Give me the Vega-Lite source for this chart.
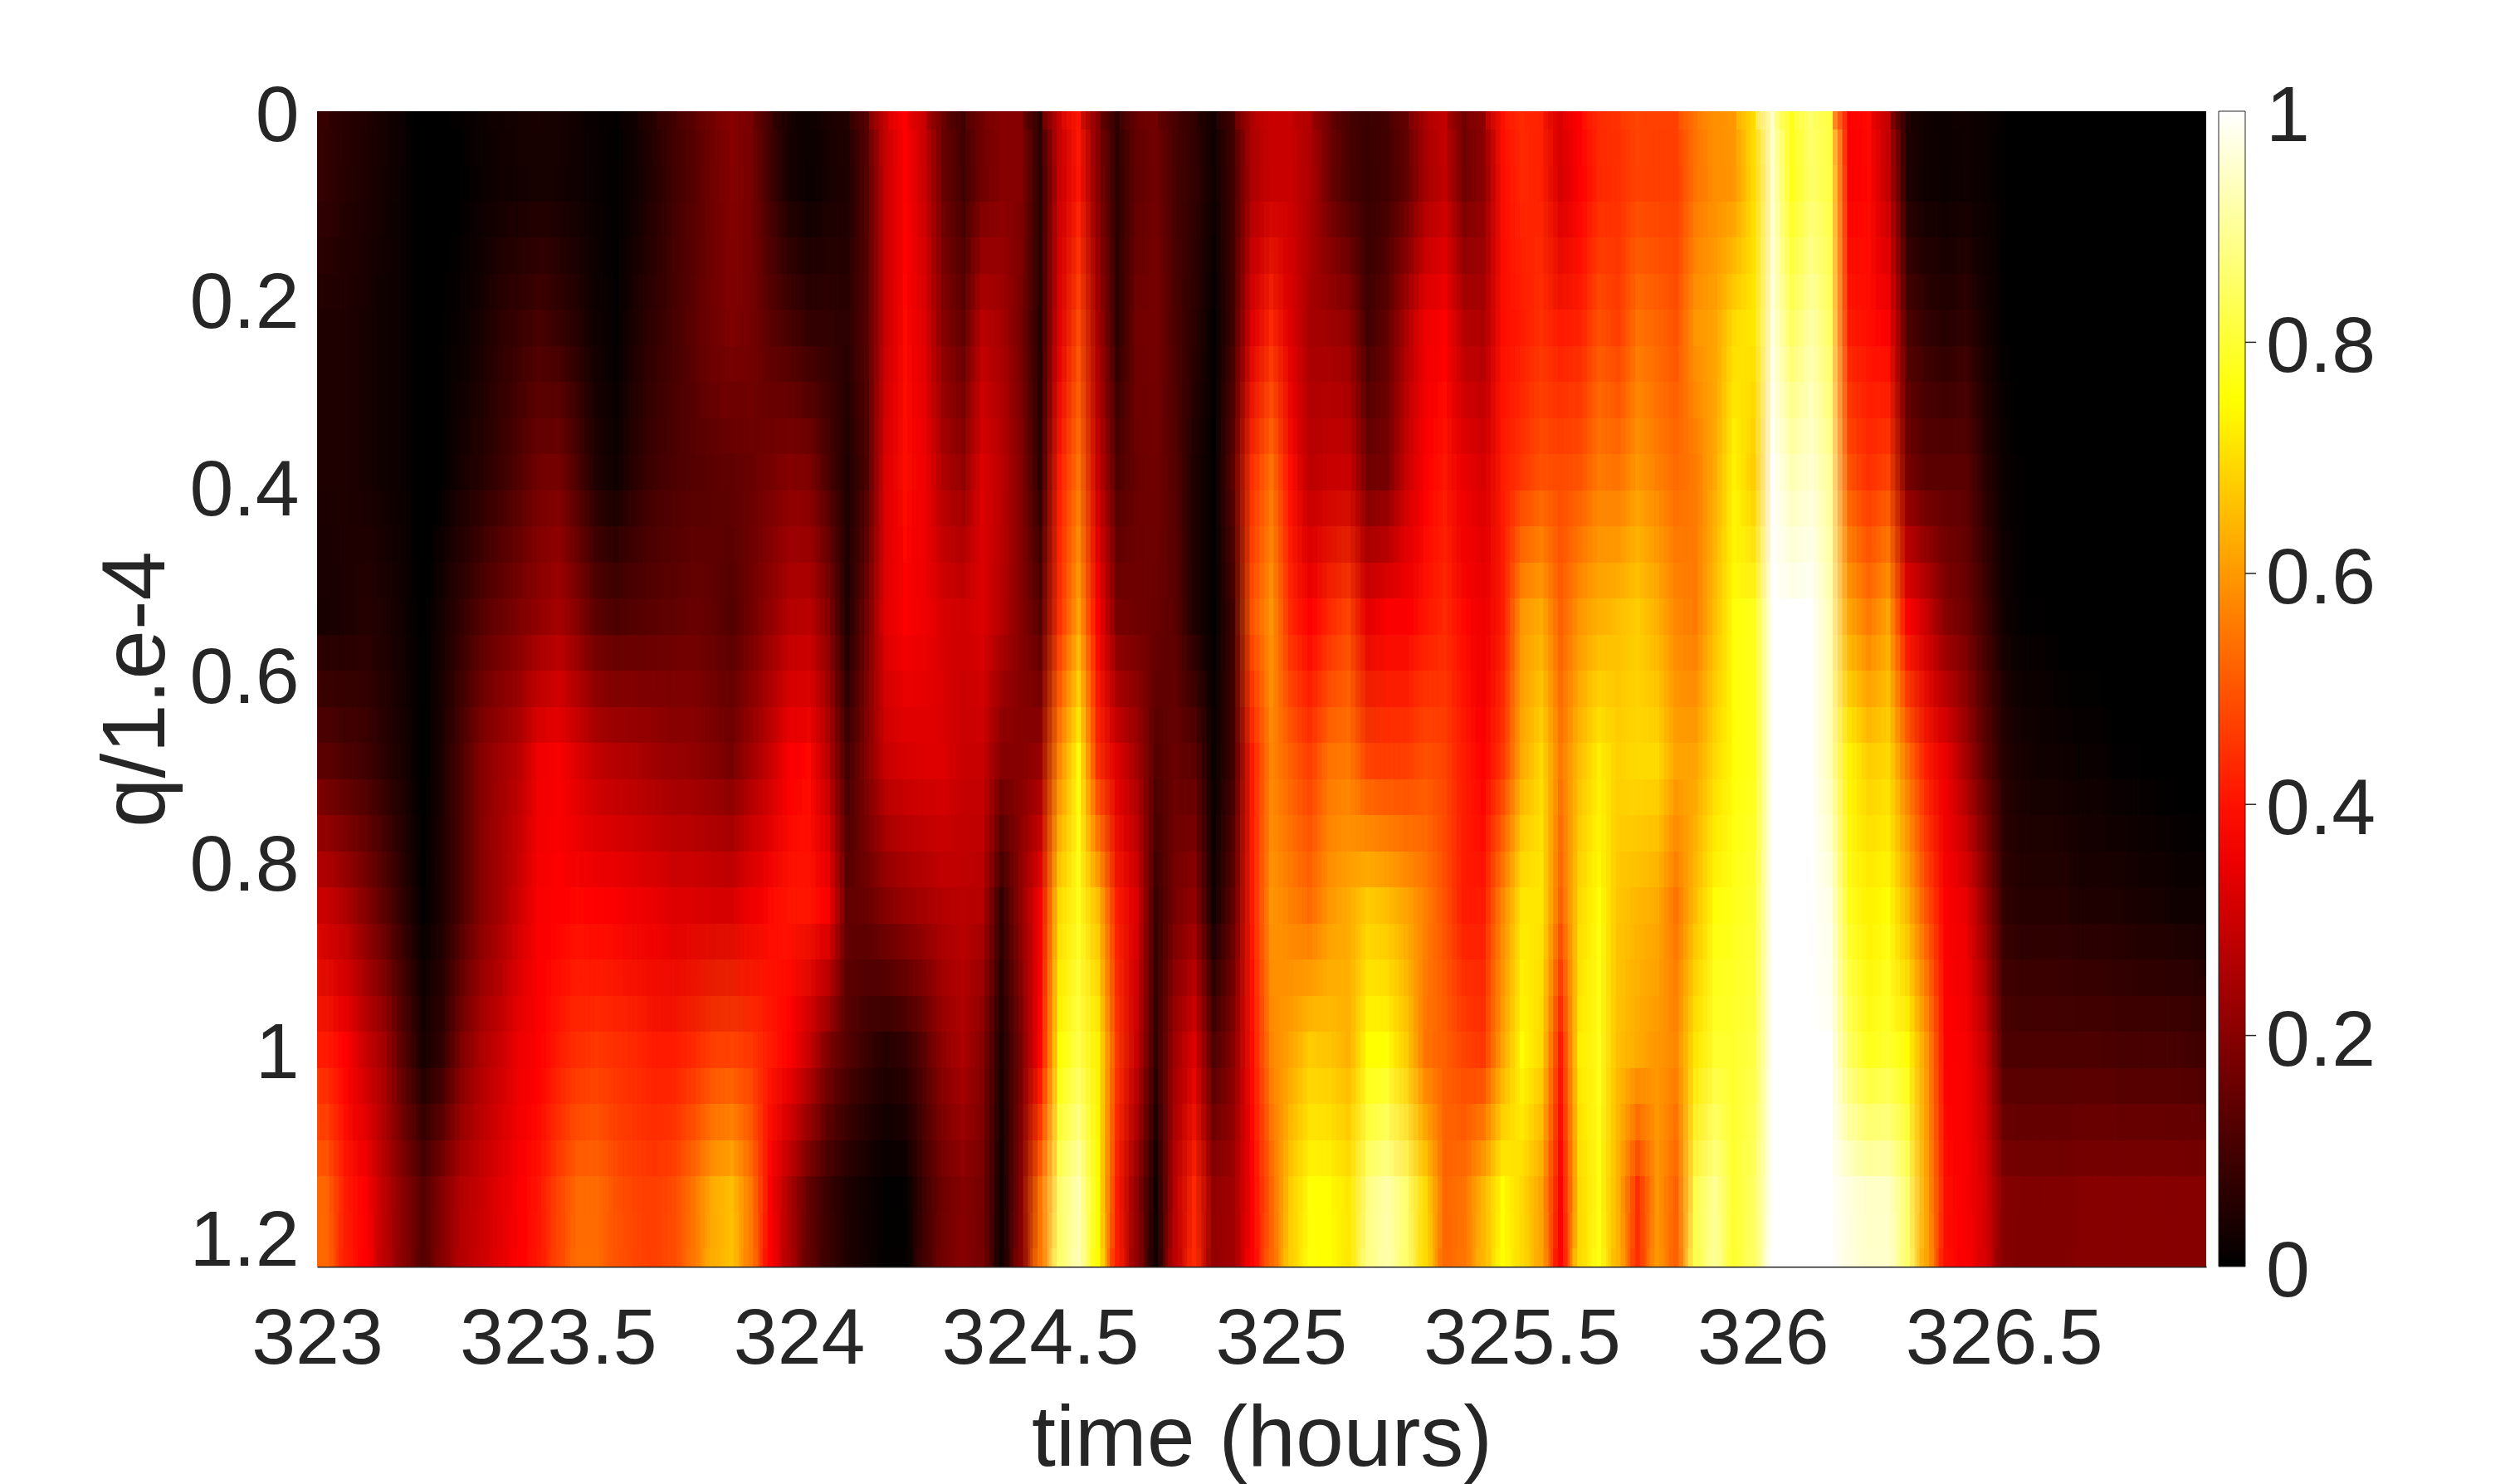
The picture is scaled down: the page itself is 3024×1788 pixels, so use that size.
{"$schema":"https://vega.github.io/schema/vega-lite/v6.json","width":2276,"height":1392,"autosize":{"type":"none"},"padding":{"left":382,"top":134,"right":366,"bottom":262},"background":"white","config":{"view":{"stroke":null},"font":"Liberation Sans"},
"layer":[{
"data":{"values":[
{"t":323.02,"q":0.077,"v":0.08},{"t":323.06,"q":0.077,"v":0.06},{"t":323.10,"q":0.077,"v":0.05},{"t":323.14,"q":0.077,"v":0.035},{"t":323.18,"q":0.077,"v":0.02},{"t":323.22,"q":0.077,"v":0},{"t":323.26,"q":0.077,"v":0.005},{"t":323.30,"q":0.077,"v":0.01},{"t":323.34,"q":0.077,"v":0.02},{"t":323.38,"q":0.077,"v":0.03},{"t":323.42,"q":0.077,"v":0.035},{"t":323.46,"q":0.077,"v":0.04},{"t":323.50,"q":0.077,"v":0.035},{"t":323.54,"q":0.077,"v":0.03},{"t":323.58,"q":0.077,"v":0.015},{"t":323.62,"q":0.077,"v":0.01},{"t":323.66,"q":0.077,"v":0.03},{"t":323.70,"q":0.077,"v":0.06},{"t":323.74,"q":0.077,"v":0.1},{"t":323.78,"q":0.077,"v":0.13},{"t":323.82,"q":0.077,"v":0.17},{"t":323.86,"q":0.077,"v":0.2},{"t":323.90,"q":0.077,"v":0.18},{"t":323.94,"q":0.077,"v":0.1},{"t":323.98,"q":0.077,"v":0.04},{"t":324.02,"q":0.077,"v":0.02},{"t":324.06,"q":0.077,"v":0.04},{"t":324.10,"q":0.077,"v":0.05},{"t":324.14,"q":0.077,"v":0.13},{"t":324.18,"q":0.077,"v":0.3},{"t":324.22,"q":0.077,"v":0.375},{"t":324.26,"q":0.077,"v":0.3},{"t":324.30,"q":0.077,"v":0.16},{"t":324.34,"q":0.077,"v":0.1},{"t":324.38,"q":0.077,"v":0.17},{"t":324.42,"q":0.077,"v":0.2},{"t":324.46,"q":0.077,"v":0.2},{"t":324.50,"q":0.077,"v":0.07},{"t":324.54,"q":0.077,"v":0.3},{"t":324.58,"q":0.077,"v":0.41},{"t":324.62,"q":0.077,"v":0.2},{"t":324.66,"q":0.077,"v":0.07},{"t":324.70,"q":0.077,"v":0.15},{"t":324.74,"q":0.077,"v":0.17},{"t":324.78,"q":0.077,"v":0.11},{"t":324.82,"q":0.077,"v":0.08},{"t":324.86,"q":0.077,"v":0.03},{"t":324.90,"q":0.077,"v":0.1},{"t":324.94,"q":0.077,"v":0.26},{"t":324.98,"q":0.077,"v":0.3},{"t":325.02,"q":0.077,"v":0.3},{"t":325.06,"q":0.077,"v":0.26},{"t":325.10,"q":0.077,"v":0.17},{"t":325.14,"q":0.077,"v":0.11},{"t":325.18,"q":0.077,"v":0.09},{"t":325.22,"q":0.077,"v":0.1},{"t":325.26,"q":0.077,"v":0.15},{"t":325.30,"q":0.077,"v":0.25},{"t":325.34,"q":0.077,"v":0.29},{"t":325.38,"q":0.077,"v":0.17},{"t":325.42,"q":0.077,"v":0.21},{"t":325.46,"q":0.077,"v":0.4},{"t":325.50,"q":0.077,"v":0.44},{"t":325.54,"q":0.077,"v":0.43},{"t":325.58,"q":0.077,"v":0.32},{"t":325.62,"q":0.077,"v":0.38},{"t":325.66,"q":0.077,"v":0.44},{"t":325.70,"q":0.077,"v":0.45},{"t":325.74,"q":0.077,"v":0.48},{"t":325.78,"q":0.077,"v":0.47},{"t":325.82,"q":0.077,"v":0.47},{"t":325.86,"q":0.077,"v":0.55},{"t":325.90,"q":0.077,"v":0.59},{"t":325.94,"q":0.077,"v":0.6},{"t":325.98,"q":0.077,"v":0.7},{"t":326.02,"q":0.077,"v":0.95},{"t":326.06,"q":0.077,"v":0.78},{"t":326.10,"q":0.077,"v":0.86},{"t":326.14,"q":0.077,"v":0.82},{"t":326.18,"q":0.077,"v":0.38},{"t":326.22,"q":0.077,"v":0.39},{"t":326.26,"q":0.077,"v":0.29},{"t":326.30,"q":0.077,"v":0.05},{"t":326.34,"q":0.077,"v":0.03},{"t":326.38,"q":0.077,"v":0.02},{"t":326.42,"q":0.077,"v":0.03},{"t":326.46,"q":0.077,"v":0.02},{"t":326.50,"q":0.077,"v":0.01},{"t":326.54,"q":0.077,"v":0.005},{"t":326.58,"q":0.077,"v":0},{"t":326.62,"q":0.077,"v":0},{"t":326.66,"q":0.077,"v":0},{"t":326.70,"q":0.077,"v":0},{"t":326.74,"q":0.077,"v":0},{"t":326.78,"q":0.077,"v":0},{"t":326.82,"q":0.077,"v":0},{"t":326.86,"q":0.077,"v":0},{"t":326.90,"q":0.077,"v":0},
{"t":323.02,"q":0.231,"v":0.05},{"t":323.06,"q":0.231,"v":0.05},{"t":323.10,"q":0.231,"v":0.04},{"t":323.14,"q":0.231,"v":0.03},{"t":323.18,"q":0.231,"v":0.02},{"t":323.22,"q":0.231,"v":0},{"t":323.26,"q":0.231,"v":0.01},{"t":323.30,"q":0.231,"v":0.02},{"t":323.34,"q":0.231,"v":0.04},{"t":323.38,"q":0.231,"v":0.07},{"t":323.42,"q":0.231,"v":0.09},{"t":323.46,"q":0.231,"v":0.11},{"t":323.50,"q":0.231,"v":0.09},{"t":323.54,"q":0.231,"v":0.06},{"t":323.58,"q":0.231,"v":0.03},{"t":323.62,"q":0.231,"v":0.01},{"t":323.66,"q":0.231,"v":0.05},{"t":323.70,"q":0.231,"v":0.08},{"t":323.74,"q":0.231,"v":0.11},{"t":323.78,"q":0.231,"v":0.14},{"t":323.82,"q":0.231,"v":0.17},{"t":323.86,"q":0.231,"v":0.19},{"t":323.90,"q":0.231,"v":0.18},{"t":323.94,"q":0.231,"v":0.14},{"t":323.98,"q":0.231,"v":0.11},{"t":324.02,"q":0.231,"v":0.08},{"t":324.06,"q":0.231,"v":0.08},{"t":324.10,"q":0.231,"v":0.07},{"t":324.14,"q":0.231,"v":0.13},{"t":324.18,"q":0.231,"v":0.3},{"t":324.22,"q":0.231,"v":0.39},{"t":324.26,"q":0.231,"v":0.33},{"t":324.30,"q":0.231,"v":0.2},{"t":324.34,"q":0.231,"v":0.15},{"t":324.38,"q":0.231,"v":0.28},{"t":324.42,"q":0.231,"v":0.25},{"t":324.46,"q":0.231,"v":0.18},{"t":324.50,"q":0.231,"v":0.06},{"t":324.54,"q":0.231,"v":0.33},{"t":324.58,"q":0.231,"v":0.49},{"t":324.62,"q":0.231,"v":0.25},{"t":324.66,"q":0.231,"v":0.07},{"t":324.70,"q":0.231,"v":0.17},{"t":324.74,"q":0.231,"v":0.18},{"t":324.78,"q":0.231,"v":0.12},{"t":324.82,"q":0.231,"v":0.07},{"t":324.86,"q":0.231,"v":0.01},{"t":324.90,"q":0.231,"v":0.1},{"t":324.94,"q":0.231,"v":0.33},{"t":324.98,"q":0.231,"v":0.44},{"t":325.02,"q":0.231,"v":0.33},{"t":325.06,"q":0.231,"v":0.25},{"t":325.10,"q":0.231,"v":0.24},{"t":325.14,"q":0.231,"v":0.22},{"t":325.18,"q":0.231,"v":0.1},{"t":325.22,"q":0.231,"v":0.15},{"t":325.26,"q":0.231,"v":0.26},{"t":325.30,"q":0.231,"v":0.36},{"t":325.34,"q":0.231,"v":0.38},{"t":325.38,"q":0.231,"v":0.27},{"t":325.42,"q":0.231,"v":0.26},{"t":325.46,"q":0.231,"v":0.4},{"t":325.50,"q":0.231,"v":0.42},{"t":325.54,"q":0.231,"v":0.45},{"t":325.58,"q":0.231,"v":0.42},{"t":325.62,"q":0.231,"v":0.43},{"t":325.66,"q":0.231,"v":0.5},{"t":325.70,"q":0.231,"v":0.47},{"t":325.74,"q":0.231,"v":0.55},{"t":325.78,"q":0.231,"v":0.53},{"t":325.82,"q":0.231,"v":0.5},{"t":325.86,"q":0.231,"v":0.6},{"t":325.90,"q":0.231,"v":0.62},{"t":325.94,"q":0.231,"v":0.7},{"t":325.98,"q":0.231,"v":0.72},{"t":326.02,"q":0.231,"v":0.97},{"t":326.06,"q":0.231,"v":0.85},{"t":326.10,"q":0.231,"v":0.92},{"t":326.14,"q":0.231,"v":0.85},{"t":326.18,"q":0.231,"v":0.42},{"t":326.22,"q":0.231,"v":0.4},{"t":326.26,"q":0.231,"v":0.38},{"t":326.30,"q":0.231,"v":0.12},{"t":326.34,"q":0.231,"v":0.08},{"t":326.38,"q":0.231,"v":0.06},{"t":326.42,"q":0.231,"v":0.08},{"t":326.46,"q":0.231,"v":0.04},{"t":326.50,"q":0.231,"v":0.01},{"t":326.54,"q":0.231,"v":0.005},{"t":326.58,"q":0.231,"v":0},{"t":326.62,"q":0.231,"v":0},{"t":326.66,"q":0.231,"v":0},{"t":326.70,"q":0.231,"v":0},{"t":326.74,"q":0.231,"v":0},{"t":326.78,"q":0.231,"v":0},{"t":326.82,"q":0.231,"v":0},{"t":326.86,"q":0.231,"v":0},{"t":326.90,"q":0.231,"v":0},
{"t":323.02,"q":0.385,"v":0.05},{"t":323.06,"q":0.385,"v":0.05},{"t":323.10,"q":0.385,"v":0.04},{"t":323.14,"q":0.385,"v":0.03},{"t":323.18,"q":0.385,"v":0.02},{"t":323.22,"q":0.385,"v":0},{"t":323.26,"q":0.385,"v":0.01},{"t":323.30,"q":0.385,"v":0.04},{"t":323.34,"q":0.385,"v":0.06},{"t":323.38,"q":0.385,"v":0.09},{"t":323.42,"q":0.385,"v":0.13},{"t":323.46,"q":0.385,"v":0.17},{"t":323.50,"q":0.385,"v":0.18},{"t":323.54,"q":0.385,"v":0.12},{"t":323.58,"q":0.385,"v":0.05},{"t":323.62,"q":0.385,"v":0.03},{"t":323.66,"q":0.385,"v":0.07},{"t":323.70,"q":0.385,"v":0.1},{"t":323.74,"q":0.385,"v":0.12},{"t":323.78,"q":0.385,"v":0.13},{"t":323.82,"q":0.385,"v":0.14},{"t":323.86,"q":0.385,"v":0.15},{"t":323.90,"q":0.385,"v":0.16},{"t":323.94,"q":0.385,"v":0.18},{"t":323.98,"q":0.385,"v":0.2},{"t":324.02,"q":0.385,"v":0.19},{"t":324.06,"q":0.385,"v":0.12},{"t":324.10,"q":0.385,"v":0.05},{"t":324.14,"q":0.385,"v":0.12},{"t":324.18,"q":0.385,"v":0.33},{"t":324.22,"q":0.385,"v":0.4},{"t":324.26,"q":0.385,"v":0.36},{"t":324.30,"q":0.385,"v":0.26},{"t":324.34,"q":0.385,"v":0.22},{"t":324.38,"q":0.385,"v":0.33},{"t":324.42,"q":0.385,"v":0.28},{"t":324.46,"q":0.385,"v":0.2},{"t":324.50,"q":0.385,"v":0.07},{"t":324.54,"q":0.385,"v":0.42},{"t":324.58,"q":0.385,"v":0.55},{"t":324.62,"q":0.385,"v":0.3},{"t":324.66,"q":0.385,"v":0.12},{"t":324.70,"q":0.385,"v":0.16},{"t":324.74,"q":0.385,"v":0.17},{"t":324.78,"q":0.385,"v":0.13},{"t":324.82,"q":0.385,"v":0.05},{"t":324.86,"q":0.385,"v":0.01},{"t":324.90,"q":0.385,"v":0.14},{"t":324.94,"q":0.385,"v":0.45},{"t":324.98,"q":0.385,"v":0.55},{"t":325.02,"q":0.385,"v":0.4},{"t":325.06,"q":0.385,"v":0.28},{"t":325.10,"q":0.385,"v":0.3},{"t":325.14,"q":0.385,"v":0.3},{"t":325.18,"q":0.385,"v":0.17},{"t":325.22,"q":0.385,"v":0.18},{"t":325.26,"q":0.385,"v":0.3},{"t":325.30,"q":0.385,"v":0.38},{"t":325.34,"q":0.385,"v":0.41},{"t":325.38,"q":0.385,"v":0.35},{"t":325.42,"q":0.385,"v":0.32},{"t":325.46,"q":0.385,"v":0.42},{"t":325.50,"q":0.385,"v":0.46},{"t":325.54,"q":0.385,"v":0.5},{"t":325.58,"q":0.385,"v":0.49},{"t":325.62,"q":0.385,"v":0.5},{"t":325.66,"q":0.385,"v":0.56},{"t":325.70,"q":0.385,"v":0.55},{"t":325.74,"q":0.385,"v":0.6},{"t":325.78,"q":0.385,"v":0.57},{"t":325.82,"q":0.385,"v":0.54},{"t":325.86,"q":0.385,"v":0.56},{"t":325.90,"q":0.385,"v":0.63},{"t":325.94,"q":0.385,"v":0.74},{"t":325.98,"q":0.385,"v":0.68},{"t":326.02,"q":0.385,"v":1},{"t":326.06,"q":0.385,"v":0.93},{"t":326.10,"q":0.385,"v":0.96},{"t":326.14,"q":0.385,"v":0.9},{"t":326.18,"q":0.385,"v":0.5},{"t":326.22,"q":0.385,"v":0.45},{"t":326.26,"q":0.385,"v":0.48},{"t":326.30,"q":0.385,"v":0.18},{"t":326.34,"q":0.385,"v":0.14},{"t":326.38,"q":0.385,"v":0.14},{"t":326.42,"q":0.385,"v":0.14},{"t":326.46,"q":0.385,"v":0.07},{"t":326.50,"q":0.385,"v":0.02},{"t":326.54,"q":0.385,"v":0.01},{"t":326.58,"q":0.385,"v":0},{"t":326.62,"q":0.385,"v":0},{"t":326.66,"q":0.385,"v":0},{"t":326.70,"q":0.385,"v":0},{"t":326.74,"q":0.385,"v":0},{"t":326.78,"q":0.385,"v":0},{"t":326.82,"q":0.385,"v":0},{"t":326.86,"q":0.385,"v":0},{"t":326.90,"q":0.385,"v":0},
{"t":323.02,"q":0.539,"v":0.04},{"t":323.06,"q":0.539,"v":0.05},{"t":323.10,"q":0.539,"v":0.06},{"t":323.14,"q":0.539,"v":0.05},{"t":323.18,"q":0.539,"v":0.03},{"t":323.22,"q":0.539,"v":0},{"t":323.26,"q":0.539,"v":0.04},{"t":323.30,"q":0.539,"v":0.08},{"t":323.34,"q":0.539,"v":0.13},{"t":323.38,"q":0.539,"v":0.16},{"t":323.42,"q":0.539,"v":0.19},{"t":323.46,"q":0.539,"v":0.22},{"t":323.50,"q":0.539,"v":0.25},{"t":323.54,"q":0.539,"v":0.2},{"t":323.58,"q":0.539,"v":0.14},{"t":323.62,"q":0.539,"v":0.12},{"t":323.66,"q":0.539,"v":0.13},{"t":323.70,"q":0.539,"v":0.14},{"t":323.74,"q":0.539,"v":0.15},{"t":323.78,"q":0.539,"v":0.16},{"t":323.82,"q":0.539,"v":0.15},{"t":323.86,"q":0.539,"v":0.13},{"t":323.90,"q":0.539,"v":0.17},{"t":323.94,"q":0.539,"v":0.22},{"t":323.98,"q":0.539,"v":0.27},{"t":324.02,"q":0.539,"v":0.28},{"t":324.06,"q":0.539,"v":0.2},{"t":324.10,"q":0.539,"v":0.05},{"t":324.14,"q":0.539,"v":0.17},{"t":324.18,"q":0.539,"v":0.34},{"t":324.22,"q":0.539,"v":0.38},{"t":324.26,"q":0.539,"v":0.36},{"t":324.30,"q":0.539,"v":0.32},{"t":324.34,"q":0.539,"v":0.31},{"t":324.38,"q":0.539,"v":0.33},{"t":324.42,"q":0.539,"v":0.27},{"t":324.46,"q":0.539,"v":0.2},{"t":324.50,"q":0.539,"v":0.13},{"t":324.54,"q":0.539,"v":0.45},{"t":324.58,"q":0.539,"v":0.62},{"t":324.62,"q":0.539,"v":0.38},{"t":324.66,"q":0.539,"v":0.18},{"t":324.70,"q":0.539,"v":0.17},{"t":324.74,"q":0.539,"v":0.16},{"t":324.78,"q":0.539,"v":0.14},{"t":324.82,"q":0.539,"v":0.05},{"t":324.86,"q":0.539,"v":0.01},{"t":324.90,"q":0.539,"v":0.1},{"t":324.94,"q":0.539,"v":0.5},{"t":324.98,"q":0.539,"v":0.6},{"t":325.02,"q":0.539,"v":0.44},{"t":325.06,"q":0.539,"v":0.38},{"t":325.10,"q":0.539,"v":0.44},{"t":325.14,"q":0.539,"v":0.48},{"t":325.18,"q":0.539,"v":0.34},{"t":325.22,"q":0.539,"v":0.37},{"t":325.26,"q":0.539,"v":0.37},{"t":325.30,"q":0.539,"v":0.41},{"t":325.34,"q":0.539,"v":0.44},{"t":325.38,"q":0.539,"v":0.39},{"t":325.42,"q":0.539,"v":0.36},{"t":325.46,"q":0.539,"v":0.42},{"t":325.50,"q":0.539,"v":0.6},{"t":325.54,"q":0.539,"v":0.63},{"t":325.58,"q":0.539,"v":0.52},{"t":325.62,"q":0.539,"v":0.6},{"t":325.66,"q":0.539,"v":0.64},{"t":325.70,"q":0.539,"v":0.66},{"t":325.74,"q":0.539,"v":0.68},{"t":325.78,"q":0.539,"v":0.64},{"t":325.82,"q":0.539,"v":0.58},{"t":325.86,"q":0.539,"v":0.56},{"t":325.90,"q":0.539,"v":0.66},{"t":325.94,"q":0.539,"v":0.76},{"t":325.98,"q":0.539,"v":0.78},{"t":326.02,"q":0.539,"v":1},{"t":326.06,"q":0.539,"v":1},{"t":326.10,"q":0.539,"v":1},{"t":326.14,"q":0.539,"v":0.93},{"t":326.18,"q":0.539,"v":0.62},{"t":326.22,"q":0.539,"v":0.56},{"t":326.26,"q":0.539,"v":0.62},{"t":326.30,"q":0.539,"v":0.38},{"t":326.34,"q":0.539,"v":0.3},{"t":326.38,"q":0.539,"v":0.2},{"t":326.42,"q":0.539,"v":0.17},{"t":326.46,"q":0.539,"v":0.1},{"t":326.50,"q":0.539,"v":0.03},{"t":326.54,"q":0.539,"v":0.01},{"t":326.58,"q":0.539,"v":0.01},{"t":326.62,"q":0.539,"v":0.005},{"t":326.66,"q":0.539,"v":0},{"t":326.70,"q":0.539,"v":0},{"t":326.74,"q":0.539,"v":0},{"t":326.78,"q":0.539,"v":0},{"t":326.82,"q":0.539,"v":0},{"t":326.86,"q":0.539,"v":0},{"t":326.90,"q":0.539,"v":0},
{"t":323.02,"q":0.693,"v":0.14},{"t":323.06,"q":0.693,"v":0.12},{"t":323.10,"q":0.693,"v":0.1},{"t":323.14,"q":0.693,"v":0.07},{"t":323.18,"q":0.693,"v":0.04},{"t":323.22,"q":0.693,"v":0},{"t":323.26,"q":0.693,"v":0.05},{"t":323.30,"q":0.693,"v":0.12},{"t":323.34,"q":0.693,"v":0.2},{"t":323.38,"q":0.693,"v":0.24},{"t":323.42,"q":0.693,"v":0.28},{"t":323.46,"q":0.693,"v":0.36},{"t":323.50,"q":0.693,"v":0.37},{"t":323.54,"q":0.693,"v":0.33},{"t":323.58,"q":0.693,"v":0.29},{"t":323.62,"q":0.693,"v":0.27},{"t":323.66,"q":0.693,"v":0.26},{"t":323.70,"q":0.693,"v":0.24},{"t":323.74,"q":0.693,"v":0.23},{"t":323.78,"q":0.693,"v":0.22},{"t":323.82,"q":0.693,"v":0.2},{"t":323.86,"q":0.693,"v":0.18},{"t":323.90,"q":0.693,"v":0.24},{"t":323.94,"q":0.693,"v":0.3},{"t":323.98,"q":0.693,"v":0.37},{"t":324.02,"q":0.693,"v":0.39},{"t":324.06,"q":0.693,"v":0.28},{"t":324.10,"q":0.693,"v":0.1},{"t":324.14,"q":0.693,"v":0.2},{"t":324.18,"q":0.693,"v":0.3},{"t":324.22,"q":0.693,"v":0.32},{"t":324.26,"q":0.693,"v":0.33},{"t":324.30,"q":0.693,"v":0.33},{"t":324.34,"q":0.693,"v":0.3},{"t":324.38,"q":0.693,"v":0.3},{"t":324.42,"q":0.693,"v":0.2},{"t":324.46,"q":0.693,"v":0.2},{"t":324.50,"q":0.693,"v":0.23},{"t":324.54,"q":0.693,"v":0.58},{"t":324.58,"q":0.693,"v":0.76},{"t":324.62,"q":0.693,"v":0.45},{"t":324.66,"q":0.693,"v":0.33},{"t":324.70,"q":0.693,"v":0.25},{"t":324.74,"q":0.693,"v":0.13},{"t":324.78,"q":0.693,"v":0.16},{"t":324.82,"q":0.693,"v":0.14},{"t":324.86,"q":0.693,"v":0.02},{"t":324.90,"q":0.693,"v":0.1},{"t":324.94,"q":0.693,"v":0.42},{"t":324.98,"q":0.693,"v":0.58},{"t":325.02,"q":0.693,"v":0.52},{"t":325.06,"q":0.693,"v":0.47},{"t":325.10,"q":0.693,"v":0.55},{"t":325.14,"q":0.693,"v":0.56},{"t":325.18,"q":0.693,"v":0.48},{"t":325.22,"q":0.693,"v":0.47},{"t":325.26,"q":0.693,"v":0.47},{"t":325.30,"q":0.693,"v":0.5},{"t":325.34,"q":0.693,"v":0.48},{"t":325.38,"q":0.693,"v":0.42},{"t":325.42,"q":0.693,"v":0.38},{"t":325.46,"q":0.693,"v":0.46},{"t":325.50,"q":0.693,"v":0.63},{"t":325.54,"q":0.693,"v":0.7},{"t":325.58,"q":0.693,"v":0.56},{"t":325.62,"q":0.693,"v":0.66},{"t":325.66,"q":0.693,"v":0.73},{"t":325.70,"q":0.693,"v":0.69},{"t":325.74,"q":0.693,"v":0.7},{"t":325.78,"q":0.693,"v":0.7},{"t":325.82,"q":0.693,"v":0.62},{"t":325.86,"q":0.693,"v":0.62},{"t":325.90,"q":0.693,"v":0.7},{"t":325.94,"q":0.693,"v":0.76},{"t":325.98,"q":0.693,"v":0.78},{"t":326.02,"q":0.693,"v":1},{"t":326.06,"q":0.693,"v":1},{"t":326.10,"q":0.693,"v":1},{"t":326.14,"q":0.693,"v":0.93},{"t":326.18,"q":0.693,"v":0.74},{"t":326.22,"q":0.693,"v":0.68},{"t":326.26,"q":0.693,"v":0.7},{"t":326.30,"q":0.693,"v":0.55},{"t":326.34,"q":0.693,"v":0.42},{"t":326.38,"q":0.693,"v":0.35},{"t":326.42,"q":0.693,"v":0.25},{"t":326.46,"q":0.693,"v":0.15},{"t":326.50,"q":0.693,"v":0.06},{"t":326.54,"q":0.693,"v":0.04},{"t":326.58,"q":0.693,"v":0.03},{"t":326.62,"q":0.693,"v":0.03},{"t":326.66,"q":0.693,"v":0.02},{"t":326.70,"q":0.693,"v":0.02},{"t":326.74,"q":0.693,"v":0.01},{"t":326.78,"q":0.693,"v":0.01},{"t":326.82,"q":0.693,"v":0.005},{"t":326.86,"q":0.693,"v":0.005},{"t":326.90,"q":0.693,"v":0},
{"t":323.02,"q":0.847,"v":0.3},{"t":323.06,"q":0.847,"v":0.26},{"t":323.10,"q":0.847,"v":0.2},{"t":323.14,"q":0.847,"v":0.14},{"t":323.18,"q":0.847,"v":0.07},{"t":323.22,"q":0.847,"v":0.01},{"t":323.26,"q":0.847,"v":0.05},{"t":323.30,"q":0.847,"v":0.12},{"t":323.34,"q":0.847,"v":0.2},{"t":323.38,"q":0.847,"v":0.25},{"t":323.42,"q":0.847,"v":0.31},{"t":323.46,"q":0.847,"v":0.37},{"t":323.50,"q":0.847,"v":0.38},{"t":323.54,"q":0.847,"v":0.39},{"t":323.58,"q":0.847,"v":0.38},{"t":323.62,"q":0.847,"v":0.37},{"t":323.66,"q":0.847,"v":0.36},{"t":323.70,"q":0.847,"v":0.35},{"t":323.74,"q":0.847,"v":0.33},{"t":323.78,"q":0.847,"v":0.33},{"t":323.82,"q":0.847,"v":0.32},{"t":323.86,"q":0.847,"v":0.32},{"t":323.90,"q":0.847,"v":0.36},{"t":323.94,"q":0.847,"v":0.39},{"t":323.98,"q":0.847,"v":0.41},{"t":324.02,"q":0.847,"v":0.41},{"t":324.06,"q":0.847,"v":0.37},{"t":324.10,"q":0.847,"v":0.15},{"t":324.14,"q":0.847,"v":0.16},{"t":324.18,"q":0.847,"v":0.2},{"t":324.22,"q":0.847,"v":0.23},{"t":324.26,"q":0.847,"v":0.25},{"t":324.30,"q":0.847,"v":0.27},{"t":324.34,"q":0.847,"v":0.28},{"t":324.38,"q":0.847,"v":0.27},{"t":324.42,"q":0.847,"v":0.08},{"t":324.46,"q":0.847,"v":0.22},{"t":324.50,"q":0.847,"v":0.36},{"t":324.54,"q":0.847,"v":0.7},{"t":324.58,"q":0.847,"v":0.78},{"t":324.62,"q":0.847,"v":0.66},{"t":324.66,"q":0.847,"v":0.42},{"t":324.70,"q":0.847,"v":0.33},{"t":324.74,"q":0.847,"v":0.09},{"t":324.78,"q":0.847,"v":0.18},{"t":324.82,"q":0.847,"v":0.22},{"t":324.86,"q":0.847,"v":0.03},{"t":324.90,"q":0.847,"v":0.15},{"t":324.94,"q":0.847,"v":0.42},{"t":324.98,"q":0.847,"v":0.6},{"t":325.02,"q":0.847,"v":0.57},{"t":325.06,"q":0.847,"v":0.54},{"t":325.10,"q":0.847,"v":0.6},{"t":325.14,"q":0.847,"v":0.63},{"t":325.18,"q":0.847,"v":0.68},{"t":325.22,"q":0.847,"v":0.66},{"t":325.26,"q":0.847,"v":0.62},{"t":325.30,"q":0.847,"v":0.57},{"t":325.34,"q":0.847,"v":0.5},{"t":325.38,"q":0.847,"v":0.42},{"t":325.42,"q":0.847,"v":0.42},{"t":325.46,"q":0.847,"v":0.58},{"t":325.50,"q":0.847,"v":0.72},{"t":325.54,"q":0.847,"v":0.72},{"t":325.58,"q":0.847,"v":0.52},{"t":325.62,"q":0.847,"v":0.7},{"t":325.66,"q":0.847,"v":0.76},{"t":325.70,"q":0.847,"v":0.67},{"t":325.74,"q":0.847,"v":0.65},{"t":325.78,"q":0.847,"v":0.63},{"t":325.82,"q":0.847,"v":0.55},{"t":325.86,"q":0.847,"v":0.66},{"t":325.90,"q":0.847,"v":0.76},{"t":325.94,"q":0.847,"v":0.78},{"t":325.98,"q":0.847,"v":0.8},{"t":326.02,"q":0.847,"v":1},{"t":326.06,"q":0.847,"v":1},{"t":326.10,"q":0.847,"v":1},{"t":326.14,"q":0.847,"v":0.98},{"t":326.18,"q":0.847,"v":0.78},{"t":326.22,"q":0.847,"v":0.74},{"t":326.26,"q":0.847,"v":0.76},{"t":326.30,"q":0.847,"v":0.65},{"t":326.34,"q":0.847,"v":0.5},{"t":326.38,"q":0.847,"v":0.38},{"t":326.42,"q":0.847,"v":0.35},{"t":326.46,"q":0.847,"v":0.23},{"t":326.50,"q":0.847,"v":0.08},{"t":326.54,"q":0.847,"v":0.06},{"t":326.58,"q":0.847,"v":0.06},{"t":326.62,"q":0.847,"v":0.06},{"t":326.66,"q":0.847,"v":0.05},{"t":326.70,"q":0.847,"v":0.05},{"t":326.74,"q":0.847,"v":0.05},{"t":326.78,"q":0.847,"v":0.04},{"t":326.82,"q":0.847,"v":0.04},{"t":326.86,"q":0.847,"v":0.03},{"t":326.90,"q":0.847,"v":0.03},
{"t":323.02,"q":1.001,"v":0.42},{"t":323.06,"q":1.001,"v":0.38},{"t":323.10,"q":1.001,"v":0.3},{"t":323.14,"q":1.001,"v":0.24},{"t":323.18,"q":1.001,"v":0.13},{"t":323.22,"q":1.001,"v":0.04},{"t":323.26,"q":1.001,"v":0.08},{"t":323.30,"q":1.001,"v":0.19},{"t":323.34,"q":1.001,"v":0.26},{"t":323.38,"q":1.001,"v":0.3},{"t":323.42,"q":1.001,"v":0.36},{"t":323.46,"q":1.001,"v":0.38},{"t":323.50,"q":1.001,"v":0.42},{"t":323.54,"q":1.001,"v":0.45},{"t":323.58,"q":1.001,"v":0.46},{"t":323.62,"q":1.001,"v":0.45},{"t":323.66,"q":1.001,"v":0.44},{"t":323.70,"q":1.001,"v":0.42},{"t":323.74,"q":1.001,"v":0.42},{"t":323.78,"q":1.001,"v":0.44},{"t":323.82,"q":1.001,"v":0.47},{"t":323.86,"q":1.001,"v":0.48},{"t":323.90,"q":1.001,"v":0.46},{"t":323.94,"q":1.001,"v":0.42},{"t":323.98,"q":1.001,"v":0.38},{"t":324.02,"q":1.001,"v":0.3},{"t":324.06,"q":1.001,"v":0.19},{"t":324.10,"q":1.001,"v":0.13},{"t":324.14,"q":1.001,"v":0.09},{"t":324.18,"q":1.001,"v":0.06},{"t":324.22,"q":1.001,"v":0.08},{"t":324.26,"q":1.001,"v":0.14},{"t":324.30,"q":1.001,"v":0.22},{"t":324.34,"q":1.001,"v":0.26},{"t":324.38,"q":1.001,"v":0.2},{"t":324.42,"q":1.001,"v":0.05},{"t":324.46,"q":1.001,"v":0.18},{"t":324.50,"q":1.001,"v":0.38},{"t":324.54,"q":1.001,"v":0.75},{"t":324.58,"q":1.001,"v":0.83},{"t":324.62,"q":1.001,"v":0.74},{"t":324.66,"q":1.001,"v":0.46},{"t":324.70,"q":1.001,"v":0.3},{"t":324.74,"q":1.001,"v":0.08},{"t":324.78,"q":1.001,"v":0.24},{"t":324.82,"q":1.001,"v":0.33},{"t":324.86,"q":1.001,"v":0.12},{"t":324.90,"q":1.001,"v":0.2},{"t":324.94,"q":1.001,"v":0.4},{"t":324.98,"q":1.001,"v":0.58},{"t":325.02,"q":1.001,"v":0.62},{"t":325.06,"q":1.001,"v":0.68},{"t":325.10,"q":1.001,"v":0.67},{"t":325.14,"q":1.001,"v":0.64},{"t":325.18,"q":1.001,"v":0.75},{"t":325.22,"q":1.001,"v":0.76},{"t":325.26,"q":1.001,"v":0.68},{"t":325.30,"q":1.001,"v":0.55},{"t":325.34,"q":1.001,"v":0.52},{"t":325.38,"q":1.001,"v":0.48},{"t":325.42,"q":1.001,"v":0.46},{"t":325.46,"q":1.001,"v":0.62},{"t":325.50,"q":1.001,"v":0.75},{"t":325.54,"q":1.001,"v":0.7},{"t":325.58,"q":1.001,"v":0.42},{"t":325.62,"q":1.001,"v":0.73},{"t":325.66,"q":1.001,"v":0.78},{"t":325.70,"q":1.001,"v":0.66},{"t":325.74,"q":1.001,"v":0.63},{"t":325.78,"q":1.001,"v":0.6},{"t":325.82,"q":1.001,"v":0.58},{"t":325.86,"q":1.001,"v":0.72},{"t":325.90,"q":1.001,"v":0.8},{"t":325.94,"q":1.001,"v":0.8},{"t":325.98,"q":1.001,"v":0.82},{"t":326.02,"q":1.001,"v":1},{"t":326.06,"q":1.001,"v":1},{"t":326.10,"q":1.001,"v":1},{"t":326.14,"q":1.001,"v":1},{"t":326.18,"q":1.001,"v":0.85},{"t":326.22,"q":1.001,"v":0.78},{"t":326.26,"q":1.001,"v":0.8},{"t":326.30,"q":1.001,"v":0.76},{"t":326.34,"q":1.001,"v":0.6},{"t":326.38,"q":1.001,"v":0.38},{"t":326.42,"q":1.001,"v":0.37},{"t":326.46,"q":1.001,"v":0.3},{"t":326.50,"q":1.001,"v":0.12},{"t":326.54,"q":1.001,"v":0.12},{"t":326.58,"q":1.001,"v":0.12},{"t":326.62,"q":1.001,"v":0.12},{"t":326.66,"q":1.001,"v":0.12},{"t":326.70,"q":1.001,"v":0.12},{"t":326.74,"q":1.001,"v":0.11},{"t":326.78,"q":1.001,"v":0.11},{"t":326.82,"q":1.001,"v":0.11},{"t":326.86,"q":1.001,"v":0.11},{"t":326.90,"q":1.001,"v":0.1},
{"t":323.02,"q":1.155,"v":0.53},{"t":323.06,"q":1.155,"v":0.42},{"t":323.10,"q":1.155,"v":0.375},{"t":323.14,"q":1.155,"v":0.28},{"t":323.18,"q":1.155,"v":0.2},{"t":323.22,"q":1.155,"v":0.13},{"t":323.26,"q":1.155,"v":0.2},{"t":323.30,"q":1.155,"v":0.27},{"t":323.34,"q":1.155,"v":0.3},{"t":323.38,"q":1.155,"v":0.34},{"t":323.42,"q":1.155,"v":0.375},{"t":323.46,"q":1.155,"v":0.41},{"t":323.50,"q":1.155,"v":0.48},{"t":323.54,"q":1.155,"v":0.54},{"t":323.58,"q":1.155,"v":0.54},{"t":323.62,"q":1.155,"v":0.5},{"t":323.66,"q":1.155,"v":0.48},{"t":323.70,"q":1.155,"v":0.47},{"t":323.74,"q":1.155,"v":0.49},{"t":323.78,"q":1.155,"v":0.55},{"t":323.82,"q":1.155,"v":0.63},{"t":323.86,"q":1.155,"v":0.66},{"t":323.90,"q":1.155,"v":0.56},{"t":323.94,"q":1.155,"v":0.38},{"t":323.98,"q":1.155,"v":0.26},{"t":324.02,"q":1.155,"v":0.15},{"t":324.06,"q":1.155,"v":0.09},{"t":324.10,"q":1.155,"v":0.05},{"t":324.14,"q":1.155,"v":0.03},{"t":324.18,"q":1.155,"v":0.01},{"t":324.22,"q":1.155,"v":0.01},{"t":324.26,"q":1.155,"v":0.1},{"t":324.30,"q":1.155,"v":0.17},{"t":324.34,"q":1.155,"v":0.2},{"t":324.38,"q":1.155,"v":0.18},{"t":324.42,"q":1.155,"v":0.03},{"t":324.46,"q":1.155,"v":0.2},{"t":324.50,"q":1.155,"v":0.55},{"t":324.54,"q":1.155,"v":0.86},{"t":324.58,"q":1.155,"v":0.93},{"t":324.62,"q":1.155,"v":0.75},{"t":324.66,"q":1.155,"v":0.42},{"t":324.70,"q":1.155,"v":0.22},{"t":324.74,"q":1.155,"v":0.03},{"t":324.78,"q":1.155,"v":0.28},{"t":324.82,"q":1.155,"v":0.44},{"t":324.86,"q":1.155,"v":0.22},{"t":324.90,"q":1.155,"v":0.24},{"t":324.94,"q":1.155,"v":0.38},{"t":324.98,"q":1.155,"v":0.53},{"t":325.02,"q":1.155,"v":0.68},{"t":325.06,"q":1.155,"v":0.76},{"t":325.10,"q":1.155,"v":0.75},{"t":325.14,"q":1.155,"v":0.72},{"t":325.18,"q":1.155,"v":0.88},{"t":325.22,"q":1.155,"v":0.92},{"t":325.26,"q":1.155,"v":0.86},{"t":325.30,"q":1.155,"v":0.7},{"t":325.34,"q":1.155,"v":0.53},{"t":325.38,"q":1.155,"v":0.55},{"t":325.42,"q":1.155,"v":0.65},{"t":325.46,"q":1.155,"v":0.75},{"t":325.50,"q":1.155,"v":0.7},{"t":325.54,"q":1.155,"v":0.62},{"t":325.58,"q":1.155,"v":0.38},{"t":325.62,"q":1.155,"v":0.7},{"t":325.66,"q":1.155,"v":0.77},{"t":325.70,"q":1.155,"v":0.64},{"t":325.74,"q":1.155,"v":0.45},{"t":325.78,"q":1.155,"v":0.6},{"t":325.82,"q":1.155,"v":0.52},{"t":325.86,"q":1.155,"v":0.83},{"t":325.90,"q":1.155,"v":0.9},{"t":325.94,"q":1.155,"v":0.8},{"t":325.98,"q":1.155,"v":0.85},{"t":326.02,"q":1.155,"v":1},{"t":326.06,"q":1.155,"v":1},{"t":326.10,"q":1.155,"v":1},{"t":326.14,"q":1.155,"v":1},{"t":326.18,"q":1.155,"v":0.97},{"t":326.22,"q":1.155,"v":0.95},{"t":326.26,"q":1.155,"v":0.95},{"t":326.30,"q":1.155,"v":0.86},{"t":326.34,"q":1.155,"v":0.62},{"t":326.38,"q":1.155,"v":0.4},{"t":326.42,"q":1.155,"v":0.37},{"t":326.46,"q":1.155,"v":0.32},{"t":326.50,"q":1.155,"v":0.2},{"t":326.54,"q":1.155,"v":0.19},{"t":326.58,"q":1.155,"v":0.19},{"t":326.62,"q":1.155,"v":0.19},{"t":326.66,"q":1.155,"v":0.2},{"t":326.70,"q":1.155,"v":0.2},{"t":326.74,"q":1.155,"v":0.2},{"t":326.78,"q":1.155,"v":0.2},{"t":326.82,"q":1.155,"v":0.2},{"t":326.86,"q":1.155,"v":0.2},{"t":326.90,"q":1.155,"v":0.2}
]},
"encoding":{
"x":{"field":"t","type":"quantitative","scale":{"domain":[323,326.92],"nice":false,"zero":false},"axis":{"values":[323,323.5,324,324.5,325,325.5,326,326.5],"format":"~g","title":"time (hours)","titleFontSize":104,"titleFontWeight":"normal","titleColor":"#262626","titlePadding":22,"labelFontSize":95,"labelColor":"#262626","labelPadding":41,"labelLimit":1000,"labelOverlap":false,"labelFlush":false,"ticks":false,"domain":true,"domainColor":"#262626","domainWidth":2,"grid":false}},
"y":{"field":"q","type":"quantitative","scale":{"domain":[0,1.232],"reverse":true,"nice":false,"zero":false},"axis":{"values":[0,0.2,0.4,0.6,0.8,1,1.2],"format":"~g","title":"q/1.e-4","titleFontSize":107,"titleFontWeight":"normal","titleColor":"#262626","titlePadding":8,"labelFontSize":95,"labelColor":"#262626","labelPadding":22,"labelOffset":6,"labelLimit":1000,"labelOverlap":false,"labelFlush":false,"ticks":false,"domain":true,"domainColor":"#999999","domainWidth":1,"grid":false}},
"color":{"field":"v","type":"quantitative","scale":{"domain":[0,0.375,0.75,1],"range":["#000000","#ff0000","#ffff00","#ffffff"],"interpolate":"rgb"},"legend":{"orient":"none","legendX":2291,"legendY":0,"title":null,"gradientLength":1392,"gradientThickness":32,"gradientStrokeColor":"#262626","gradientStrokeWidth":1,"gradientOpacity":1,"values":[0,0.2,0.4,0.6,0.8,1],"format":"~g","labelFontSize":95,"labelColor":"#262626","labelOffset":25,"labelOverlap":false,"labelLimit":1000,"encoding":{"labels":{"baseline":{"value":"middle"},"dy":{"value":7}},"gradient":{"opacity":{"value":1}}}}}
},
"layer":[
{"mark":{"type":"rect","width":23.9,"height":175,"clip":true}},
{"mark":{"type":"rect","width":23.3,"height":174.2,"clip":true,"xOffset":-8.7,"yOffset":-65,"opacity":1}},
{"mark":{"type":"rect","width":23.3,"height":174.2,"clip":true,"xOffset":2.9,"yOffset":22,"opacity":0.5}},
{"mark":{"type":"rect","width":23.3,"height":174.2,"clip":true,"xOffset":-2.9,"yOffset":65,"opacity":0.333}},
{"mark":{"type":"rect","width":23.3,"height":174.2,"clip":true,"xOffset":8.7,"yOffset":-22,"opacity":0.25}},
{"mark":{"type":"rect","width":23.3,"height":174.2,"clip":true,"xOffset":-8.7,"yOffset":22,"opacity":0.2}},
{"mark":{"type":"rect","width":23.3,"height":174.2,"clip":true,"xOffset":2.9,"yOffset":-65,"opacity":0.167}},
{"mark":{"type":"rect","width":23.3,"height":174.2,"clip":true,"xOffset":-2.9,"yOffset":-22,"opacity":0.143}},
{"mark":{"type":"rect","width":23.3,"height":174.2,"clip":true,"xOffset":8.7,"yOffset":65,"opacity":0.125}},
{"mark":{"type":"rect","width":23.3,"height":174.2,"clip":true,"xOffset":-8.7,"yOffset":-22,"opacity":0.111}},
{"mark":{"type":"rect","width":23.3,"height":174.2,"clip":true,"xOffset":2.9,"yOffset":65,"opacity":0.1}},
{"mark":{"type":"rect","width":23.3,"height":174.2,"clip":true,"xOffset":-2.9,"yOffset":-65,"opacity":0.091}},
{"mark":{"type":"rect","width":23.3,"height":174.2,"clip":true,"xOffset":8.7,"yOffset":22,"opacity":0.083}},
{"mark":{"type":"rect","width":23.3,"height":174.2,"clip":true,"xOffset":-8.7,"yOffset":65,"opacity":0.077}},
{"mark":{"type":"rect","width":23.3,"height":174.2,"clip":true,"xOffset":2.9,"yOffset":-22,"opacity":0.071}},
{"mark":{"type":"rect","width":23.3,"height":174.2,"clip":true,"xOffset":-2.9,"yOffset":22,"opacity":0.067}},
{"mark":{"type":"rect","width":23.3,"height":174.2,"clip":true,"xOffset":8.7,"yOffset":-65,"opacity":0.0625}}
]},
{"data":{"values":[{"c":0.2},{"c":0.4},{"c":0.6},{"c":0.8}]},
"mark":{"type":"rule","color":"#262626","strokeWidth":1.5,"clip":false},
"encoding":{
"x":{"datum":326.9995,"type":"quantitative"},
"x2":{"datum":327.0236},
"y":{"field":"c","type":"quantitative","scale":{"domain":[1,0],"nice":false,"zero":false},"axis":null}
}}
],
"resolve":{"scale":{"y":"independent"}}
}
